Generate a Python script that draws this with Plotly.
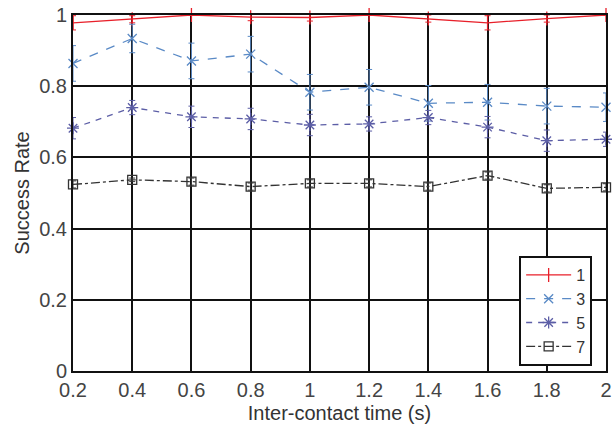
import plotly.graph_objects as go

x_vals = [0.2, 0.4, 0.6, 0.8, 1.0, 1.2, 1.4, 1.6, 1.8, 2.0]
s1 = [0.978, 0.988, 1.0, 0.994, 0.993, 1.0, 0.99, 0.978, 0.99, 1.0]
s3 = [0.864, 0.934, 0.871, 0.890, 0.783, 0.797, 0.752, 0.755, 0.744, 0.741]
s5 = [0.682, 0.740, 0.714, 0.708, 0.691, 0.694, 0.712, 0.685, 0.647, 0.651]
s7 = [0.524, 0.537, 0.532, 0.518, 0.527, 0.527, 0.518, 0.549, 0.513, 0.516]
e1 = [0.02, 0.01, 0.0, 0.01, 0.01, 0.0, 0.01, 0.02, 0.01, 0.0]
e3 = [0.05, 0.04, 0.05, 0.05, 0.05, 0.05, 0.05, 0.05, 0.05, 0.04]
e5 = [0.03, 0.02, 0.03, 0.03, 0.03, 0.02, 0.02, 0.03, 0.03, 0.02]
e7 = [0.01, 0.005, 0.01, 0.01, 0.01, 0.01, 0.01, 0.01, 0.01, 0.01]
names = ["1", "3", "5", "7"]
x_ticks = [0.2, 0.4, 0.6, 0.8, 1.0, 1.2, 1.4, 1.6, 1.8, 2.0]
x_ticktext = ["0.2", "0.4", "0.6", "0.8", "1", "1.2", "1.4", "1.6", "1.8", "2"]
y_ticks = [0, 0.2, 0.4, 0.6, 0.8, 1.0]
y_ticktext = ["0", "0.2", "0.4", "0.6", "0.8", "1"]

styles = [
    dict(color="#e8202a", dash="solid", symbol="line-ns", msize=10),
    dict(color="#5a8ac6", dash="dash", symbol="x-thin", msize=9),
    dict(color="#5c5ea6", dash="6px,6px", symbol="asterisk", msize=10),
    dict(color="#333333", dash="dashdot", symbol="square-open", msize=9),
]
series = [s1, s3, s5, s7]
errs = [e1, e3, e5, e7]

FONT = "Liberation Sans, Arial"

fig = go.Figure()
for name, ys, es, st in zip(names, series, errs, styles):
    fig.add_trace(go.Scatter(
        x=x_vals, y=ys, name=name, mode="lines+markers",
        line=dict(color=st["color"], width=1.3, dash=st["dash"]),
        marker=dict(symbol=st["symbol"], size=st["msize"],
                    color=st["color"], line=dict(color=st["color"], width=1.3)),
        error_y=dict(type="data", array=es, visible=True, color=st["color"],
                     thickness=1, width=3),
        cliponaxis=False,
    ))

axis_common = dict(
    showgrid=True, gridcolor="#111111", gridwidth=2,
    showline=True, linecolor="#111111", linewidth=2, mirror=True,
    ticks="inside", ticklen=5, tickcolor="#111111", zeroline=False,
    automargin=True,
    tickfont=dict(family=FONT, size=20, color="#444444"),
)
fig.update_xaxes(range=[0.2, 2.0], tickvals=x_ticks, ticktext=x_ticktext,
                 title=dict(text="Inter-contact time (s)", standoff=6,
                            font=dict(family=FONT, size=20, color="#333333")),
                 **axis_common)
fig.update_yaxes(range=[0, 1.0], tickvals=y_ticks, ticktext=y_ticktext,
                 title=dict(text="Success Rate", standoff=4,
                            font=dict(family=FONT, size=20, color="#333333")),
                 **axis_common)

fig.update_layout(
    width=613, height=426,
    margin=dict(l=73, r=7, t=15, b=55, autoexpand=False),
    paper_bgcolor="white", plot_bgcolor="white",
    showlegend=True,
    legend=dict(x=0.974, y=0.014, xanchor="right", yanchor="bottom",
                bgcolor="white", bordercolor="#111111", borderwidth=2,
                font=dict(family=FONT, size=16, color="#333333"),
                tracegroupgap=0, itemwidth=45),
)

fig.write_html("out.html", config={"displayModeBar": False},
               post_script="document.body.style.margin='0';document.body.style.overflow='hidden';")
